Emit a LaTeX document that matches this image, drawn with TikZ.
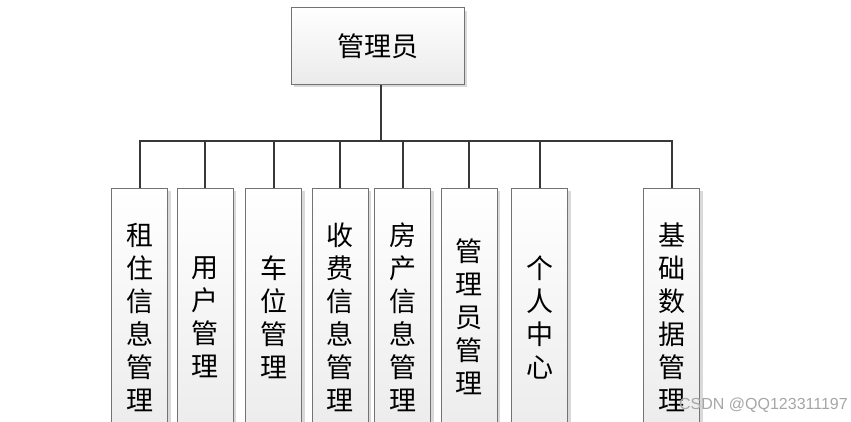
\documentclass[tikz,border=0pt]{standalone}
\usepackage{fontspec}
\newfontfamily\cjk{Noto Sans CJK SC}
\begin{document}
\begin{tikzpicture}[x=1pt,y=-1pt,
  shadowbox/.style={fill=black!15,draw=none},
  boxbase/.style={draw=black!55,line width=0.9pt,top color=white,bottom color=black!8,
     font=\cjk\fontsize{27}{33}\selectfont,text=black,inner sep=0pt},
  topbox/.style={boxbase,minimum width=173pt,minimum height=77pt},
  childbox/.style={boxbase,minimum width=56pt,minimum height=258pt,align=center},
  link/.style={draw=black!78,line width=2pt}]
\useasboundingbox (0,0) rectangle (851,421);
% shadows
\fill[shadowbox] (294,11) rectangle (467,87);
\foreach \cx in {139.7,205.3,273.7,340.3,402.5,469,539.7,671.5}{
  \fill[shadowbox] (\cx-28+3,191) rectangle (\cx+28+3,450);
}
\node[topbox] (top) at (377.7,45.8) {管理员};
\coordinate (bus) at (0,140.7);
\node[childbox] (c1) at (139.7,317) {租\\住\\信\\息\\管\\理};
\node[childbox] (c2) at (205.3,317) {用\\户\\管\\理};
\node[childbox] (c3) at (273.7,317) {车\\位\\管\\理};
\node[childbox] (c4) at (340.3,317) {收\\费\\信\\息\\管\\理};
\node[childbox] (c5) at (402.5,317) {房\\产\\信\\息\\管\\理};
\node[childbox] (c6) at (469,317) {管\\理\\员\\管\\理};
\node[childbox] (c7) at (539.7,317) {个\\人\\中\\心};
\node[childbox] (c8) at (671.5,317) {基\\础\\数\\据\\管\\理};
\draw[link] ([xshift=3pt]top.south) -- ([xshift=3pt]top.south |- bus);
\draw[link] (c1.north) -- (c1.north |- bus) -- (c8.north |- bus) -- (c8.north);
\foreach \n in {c2,c3,c4,c5,c6,c7}{
  \draw[link] (\n.north) -- (\n.north |- bus);
}
\node[text=black!35,font=\fontspec{Liberation Sans}\fontsize{16}{18}\selectfont,anchor=east,inner sep=0pt] (wm) at (848,405) {CSDN @QQ123311197};
\end{tikzpicture}
\end{document}
